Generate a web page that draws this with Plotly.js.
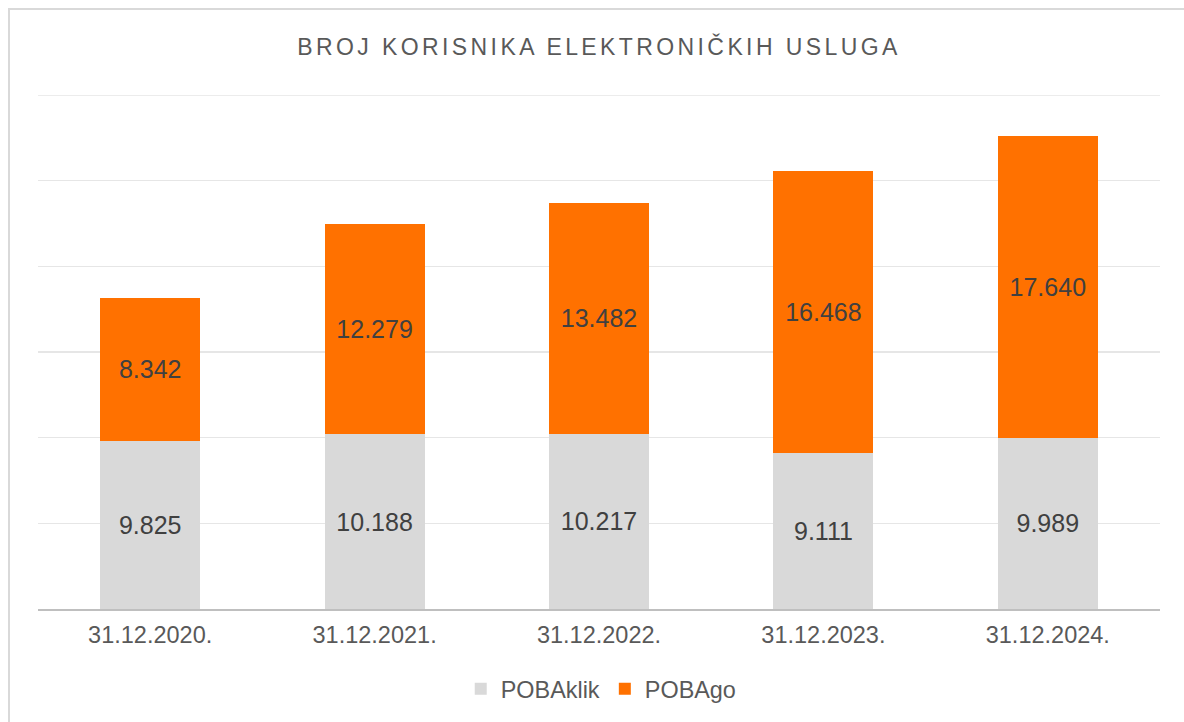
<!DOCTYPE html>
<html>
<head>
<meta charset="utf-8">
<script src="https://cdn.plot.ly/plotly-3.0.1.min.js"></script>
<style>
  html, body { margin: 0; padding: 0; background: #ffffff; overflow: hidden; }
  #chart { position: absolute; left: 0; top: 0; width: 1184px; height: 722px; }
  #frame { position: absolute; left: 8px; top: 8px; width: 2000px; height: 2000px;
           border-top: 2px solid #d9d9d9; border-left: 2px solid #d9d9d9;
           pointer-events: none; z-index: 10; }
  .gtitle { letter-spacing: 3.4px; }
</style>
</head>
<body>
<div id="chart"></div>
<div id="frame"></div>
<script>
const categories = ["31.12.2020.", "31.12.2021.", "31.12.2022.", "31.12.2023.", "31.12.2024."];
const pobaKlik = [9825, 10188, 10217, 9111, 9989];
const pobaGo = [8342, 12279, 13482, 16468, 17640];
const yMax = 30000;

const labelFont = { family: "Liberation Sans, Arial, sans-serif", size: 25, color: "#404040" };

const traces = [
  {
    type: "bar", name: "POBAklik", x: categories, y: pobaKlik,
    marker: { color: "#d9d9d9", line: { width: 0 } },
    texttemplate: "%{y:,.0f}", textposition: "inside", insidetextanchor: "middle",
    textfont: labelFont, insidetextfont: labelFont, constraintext: "none",
    hoverinfo: "x+y+name"
  },
  {
    type: "bar", name: "POBAgo", x: categories, y: pobaGo,
    marker: { color: "#ff7100", line: { width: 0 } },
    texttemplate: "%{y:,.0f}", textposition: "inside", insidetextanchor: "middle",
    textfont: labelFont, insidetextfont: labelFont, constraintext: "none",
    hoverinfo: "x+y+name"
  }
];

const layout = {
  width: 1184, height: 722,
  separators: ",.",
  barmode: "stack",
  bargap: 0.554,
  paper_bgcolor: "#ffffff",
  plot_bgcolor: "#ffffff",
  margin: { l: 38, r: 24, t: 95, b: 113, pad: 0 },
  font: { family: "Liberation Sans, Arial, sans-serif", color: "#595959" },
  title: {
    text: "BROJ KORISNIKA ELEKTRONIČKIH USLUGA",
    font: { family: "Liberation Sans, Arial, sans-serif", size: 23, color: "#595959" },
    x: 0.5, xref: "paper", xanchor: "center",
    y: 1 - 47 / 722, yref: "container", yanchor: "middle"
  },
  xaxis: {
    type: "category",
    showgrid: false,
    showline: true, linecolor: "#bfbfbf", linewidth: 2,
    ticks: "", ticklen: 0, ticklabelstandoff: 4,
    tickfont: { family: "Liberation Sans, Arial, sans-serif", size: 23.5, color: "#595959" },
    fixedrange: true
  },
  yaxis: {
    range: [0, yMax], dtick: 5000, tick0: 0,
    showgrid: true, gridcolor: "#e6e6e6", gridwidth: 1.5,
    showticklabels: false, zeroline: false, showline: false, ticks: "",
    fixedrange: true
  },
  shapes: [
    { type: "line", xref: "paper", yref: "y", x0: 0, x1: 1, y0: yMax, y1: yMax,
      line: { color: "#e6e6e6", width: 1.5 }, layer: "below" }
  ],
  showlegend: true,
  legend: {
    orientation: "h", x: 0.502, xanchor: "center",
    yref: "container", y: 33 / 722, yanchor: "middle",
    font: { family: "Liberation Sans, Arial, sans-serif", size: 23.4, color: "#595959" },
    traceorder: "normal", itemclick: false, itemdoubleclick: false
  }
};

Plotly.newPlot("chart", traces, layout, { displayModeBar: false, staticPlot: true });
</script>
</body>
</html>
